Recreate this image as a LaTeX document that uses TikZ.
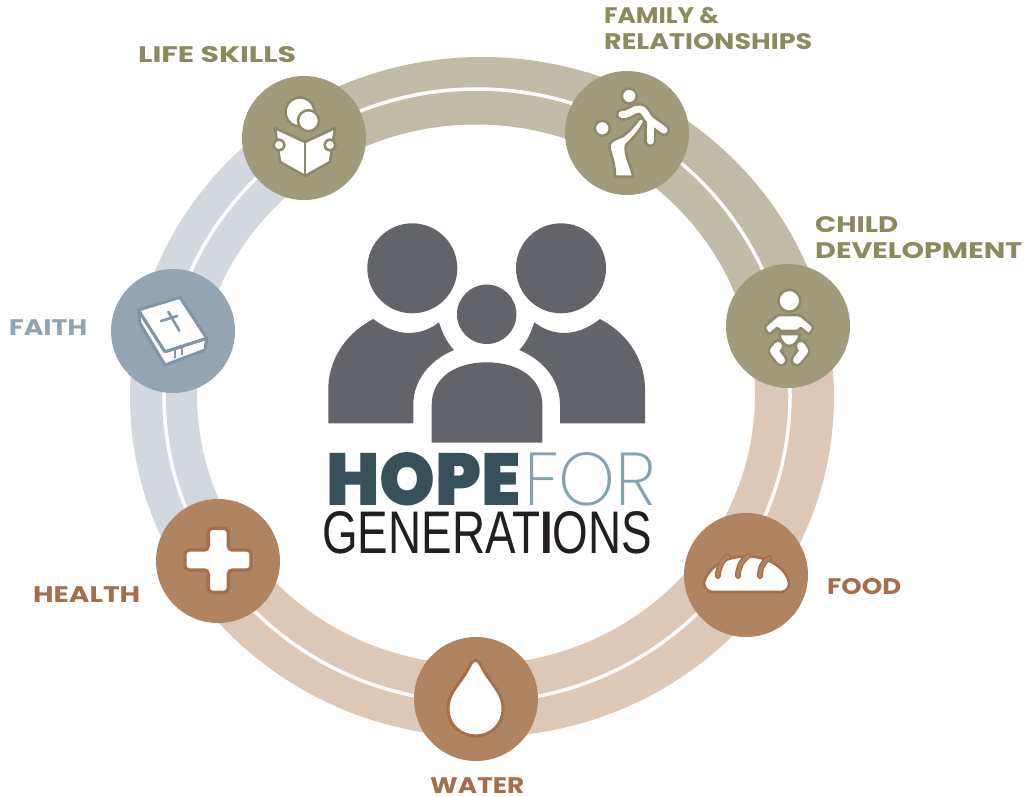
\documentclass[tikz,border=0pt]{standalone}
\usepackage{fontspec}
\usepackage{graphicx}
\usetikzlibrary{positioning}
\newfontfamily\labelfont{Poppins}
\newfontfamily\hopefont{Poppins Black}
\newfontfamily\forfont{Poppins ExtraLight}
\newfontfamily\genfont{Liberation Sans}
\definecolor{khakicircle}{HTML}{A09B7B}
\definecolor{khakiband}{HTML}{BFBBA6}
\definecolor{khakiedge}{HTML}{8E8A69}
\definecolor{khakitext}{HTML}{8B8A5E}
\definecolor{bluecircle}{HTML}{93A5B3}
\definecolor{blueband}{HTML}{D2D8DD}
\definecolor{blueedge}{HTML}{7F95A6}
\definecolor{bluetext}{HTML}{8FA3B2}
\definecolor{tancircle}{HTML}{B08461}
\definecolor{tanband}{HTML}{DDC7B6}
\definecolor{tanedge}{HTML}{A56F4B}
\definecolor{tantext}{HTML}{A36E4B}
\definecolor{peoplegray}{HTML}{636469}
\definecolor{hopeblue}{HTML}{375059}
\definecolor{forblue}{HTML}{87A0B0}
\definecolor{genblack}{HTML}{231F20}
\newcommand{\ringpath}{(482,397) ellipse [x radius=352,y radius=340] (476,394.5) ellipse [x radius=279,y radius=270]}
\newcommand{\widetext}[2]{\resizebox{#1pt}{\height}{#2}}
\tikzset{
  iconcircle/.style={circle,minimum size=124pt,inner sep=0pt,fill=#1},
  steplabel/.style={anchor=base west,align=left,inner sep=0pt,text=#1,font=\labelfont\bfseries\fontsize{22.5}{26}\selectfont},
  iconshape/.style={draw=#1,fill=white,line width=2.6pt,line join=round},
  iconstroke/.style 2 args={draw=#1,line width=2.6pt,double=white,double distance=#2,line cap=round,line join=round},
  logotext/.style={inner sep=0pt,anchor=south west,text=#1},
}
\begin{document}
\begin{tikzpicture}[x=1pt,y=-1pt]
  \useasboundingbox (0,0) rectangle (1024,796);
  % ring
  \begin{scope}
    \clip (480,395) -- (128,-119) -- (1300,-300) -- (1300,100) -- (1096,257) -- cycle;
    \fill[khakiband,even odd rule] \ringpath;
  \end{scope}
  \begin{scope}
    \clip (480,395) -- (128,-119) -- (-300,-100) -- (-300,900) -- (-44,727) -- cycle;
    \fill[blueband,even odd rule] \ringpath;
  \end{scope}
  \begin{scope}
    \clip (480,395) -- (-44,727) -- (-300,1300) -- (1300,1300) -- (1300,100) -- (1096,257) -- cycle;
    \fill[tanband,even odd rule] \ringpath;
  \end{scope}
  \draw[white,line width=3.5pt] (477,395.5) ellipse [x radius=313,y radius=306.5];
  % circles
  \node[iconcircle=khakicircle] (lifecircle) at (304,138) {};
  \node[iconcircle=khakicircle] (familycircle) at (627,133) {};
  \node[iconcircle=khakicircle] (childcircle) at (788,326) {};
  \node[iconcircle=tancircle] (foodcircle) at (746,575) {};
  \node[iconcircle=tancircle] (watercircle) at (476,699) {};
  \node[iconcircle=tancircle] (healthcircle) at (218,561) {};
  \node[iconcircle=bluecircle] (faithcircle) at (173,331) {};
  % labels
  \node[steplabel=khakitext] (lifelabel) at (138,62) {\widetext{158}{LIFE SKILLS}};
  \node[steplabel=khakitext] (familylabel) at (604,49.5) {\widetext{115}{FAMILY \&}\\\widetext{208}{RELATIONSHIPS}};
  \node[steplabel=khakitext] (childlabel) at (815,258.5) {\widetext{83}{CHILD}\\\widetext{207}{DEVELOPMENT}};
  \node[steplabel=bluetext] (faithlabel) at (9,335) {\widetext{78}{FAITH}};
  \node[steplabel=tantext] (healthlabel) at (33,602) {\widetext{107}{HEALTH}};
  \node[steplabel=tantext] (waterlabel) at (430,793) {\widetext{94}{WATER}};
  \node[steplabel=tantext] (foodlabel) at (827,594) {\widetext{74}{FOOD}};
  % people
  \fill[peoplegray] (412.3,268.3) circle (45) (561,268.3) circle (45) (486.7,314.3) circle (29.7);
  \fill[peoplegray] (328.3,423.3) -- (328.3,388) .. controls (329,355) and (350,331) .. (373.3,319)
    .. controls (396,337) and (420,337) .. (439,322.3) .. controls (442,332) and (447,343) .. (454,350)
    .. controls (430,360) and (413.3,380) .. (413.3,405) -- (413.3,423.3) -- cycle;
  \fill[peoplegray] (645,423.3) -- (645,388) .. controls (644.3,355) and (623.3,331) .. (600,319)
    .. controls (577.3,337) and (553.3,337) .. (534.3,322.3) .. controls (531.3,332) and (526.3,343) .. (519.3,350)
    .. controls (543.3,360) and (560,380) .. (560,405) -- (560,423.3) -- cycle;
  \fill[peoplegray] (431.7,442.7) -- (431.7,405) .. controls (431.7,378) and (455,362.3) .. (486.7,362.3)
    .. controls (518.3,362.3) and (542.3,378) .. (542.3,405) -- (542.3,442.7) -- cycle;
  % logo text
  \node[logotext=hopeblue] (hopetext) at (326,506) {\resizebox{195pt}{53pt}{\hopefont HOPE}};
  \node[logotext=forblue] (fortext) at (524,506) {\resizebox{132pt}{53pt}{\forfont FOR}};
  \node[logotext=genblack] (gentext) at (322,554) {\resizebox{330pt}{42pt}{\genfont GENERAT\textbf{I}ONS}};
  % book icon
  \draw[iconshape=khakiedge] (300,112) circle (14.5);
  \draw[iconshape=khakiedge] (308.5,120.7) circle (10.5);
  \draw[iconshape=khakiedge] (275,128) -- (305,142) -- (335,128) -- (330,162) -- (305,176) -- (280,162) -- cycle;
  \draw[khakiedge,line width=1.6pt] (305,142) -- (305,175);
  \draw[iconshape=khakiedge] (279,145) circle (5.5) (330,145) circle (5.5);
  % parent and child icon
  \draw[iconshape=khakiedge] (602.3,128.3) circle (7.5) (629.3,96) circle (7.5);
  \draw[iconshape=khakiedge] (615,176.7) .. controls (615,165) and (612,158) .. (610,150)
    .. controls (607,141) and (616,139) .. (623,136) .. controls (630,131) and (635,124) .. (640,118)
    -- (645,120) .. controls (641,130) and (633,138) .. (626,145) .. controls (624,155) and (631,165) .. (633.3,176.7) -- cycle;
  \draw[iconstroke={khakiedge}{7pt}] (650,122) -- (650,141);
  \draw[iconstroke={khakiedge}{7pt}] (622,114.5) .. controls (630,115) and (634,108) .. (640,109) .. controls (645,110) and (646,116) .. (650,120) -- (664,130);
  \draw[white,line width=7pt,line cap=round] (650,122) -- (650,130);
  % baby icon
  \draw[iconshape=khakiedge] (789.3,300.7) circle (11);
  \draw[iconstroke={khakiedge}{8pt}] (778,346) -- (774,351) -- (781,360);
  \draw[iconstroke={khakiedge}{8pt}] (801,346) -- (804,351) -- (797,360);
  \draw[iconshape=khakiedge,rounded corners=2.5pt] (778,315) -- (800,315) -- (814,327) -- (809,335) -- (800,327) -- (799,331) -- (779,331) -- (778,327) -- (769,335) -- (764,327) -- cycle;
  \draw[iconshape=khakiedge] (779,334) -- (800,334) .. controls (798,342) and (794,346) .. (789.3,346) .. controls (785,346) and (781,342) .. (779,334) -- cycle;
  % bread icon
  \draw[iconshape=tanedge] (713.3,592) -- (780,592) .. controls (788,592) and (791,585) .. (788,579)
    .. controls (783,566) and (766,556) .. (746.7,556.5) .. controls (726,556) and (711,566) .. (705,579)
    .. controls (702,585) and (706,592) .. (713.3,592) -- cycle;
  \foreach \bx/\by/\ex/\ey in {728/556/718/576,748/556/738/576,769/558/760/576}{
    \draw[tanedge,line width=6pt,line cap=round] (\bx,\by) .. controls (\bx-7,\by+5) and (\ex,\ey-8) .. (\ex,\ey);
    \draw[tancircle,line width=3pt,line cap=round] (\bx,\by) .. controls (\bx-7,\by+5) and (\ex,\ey-8) .. (\ex,\ey);
  }
  % drop icon
  \draw[iconshape=tanedge,line width=3pt] (475.7,660) .. controls (480,660) and (482,670) .. (490,680)
    .. controls (497,690) and (503,697) .. (503,709) .. controls (503,725) and (490,736) .. (475.7,736)
    .. controls (461,736) and (448,725) .. (448,709) .. controls (448,697) and (454,690) .. (461,680)
    .. controls (469,670) and (471,660) .. (475.7,660) -- cycle;
  % cross icon
  \draw[iconshape=tanedge,line width=3.4pt,rounded corners=4pt] (208.3,528.3) -- (228.3,528.3) -- (228.3,550) -- (251,550) -- (251,570) -- (228.3,570) -- (228.3,592.3) -- (208.3,592.3) -- (208.3,570) -- (185,570) -- (185,550) -- (208.3,550) -- cycle;
  % bible icon
  \draw[iconshape=blueedge,line width=3pt] (138.3,310) -- (140,323.3) -- (165,365) -- (205,350) -- (206.7,338.3) -- (165,351.7) -- cycle;
  \draw[iconshape=blueedge,line width=3pt] (138.3,310) -- (180,297.3) -- (206.7,338.3) -- (165,351.7) -- cycle;
  \draw[blueedge,line width=2.6pt,line cap=round] (168.3,311.7) -- (179.3,330.7) (161,321) -- (177.3,316);
  \draw[blueedge,line width=1.8pt] (175,358) -- (175,349) -- (182,347) -- (182,355);
\end{tikzpicture}
\end{document}
